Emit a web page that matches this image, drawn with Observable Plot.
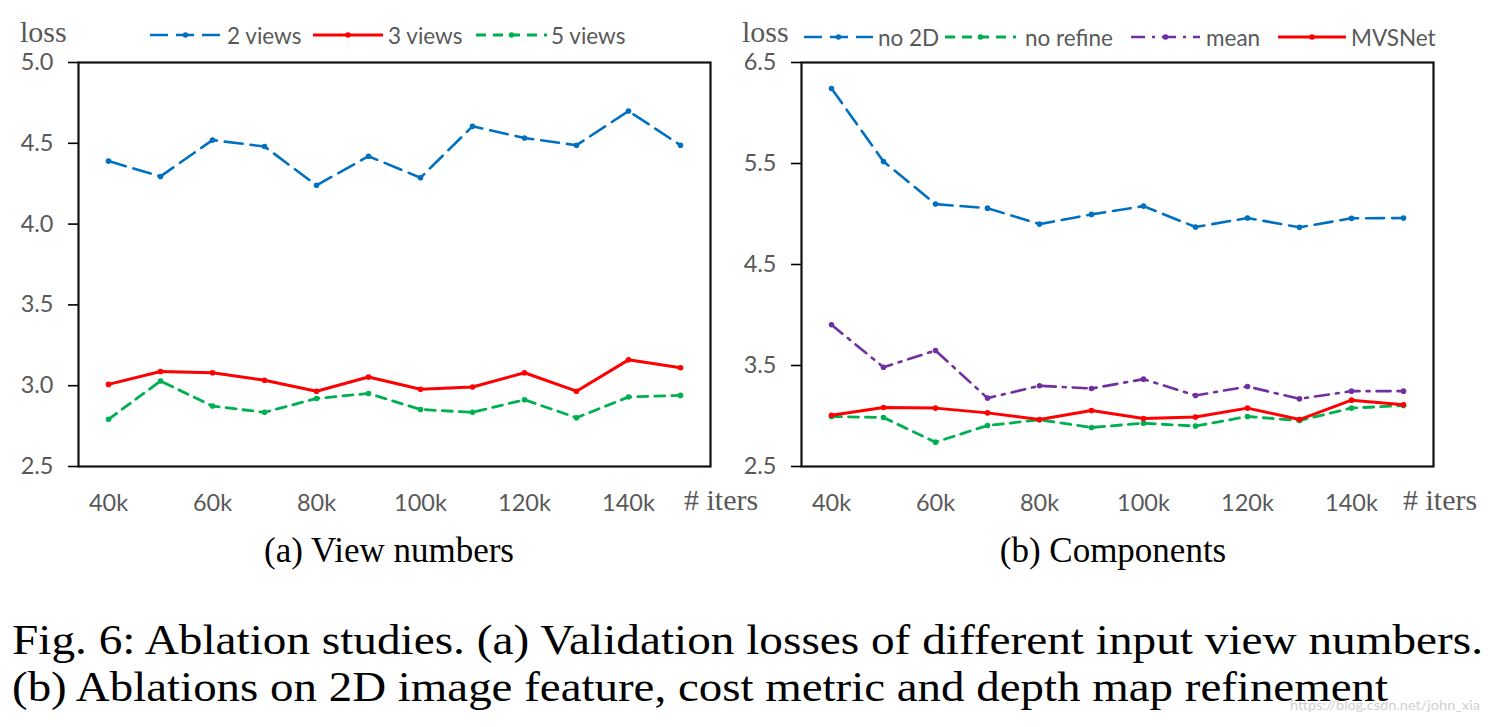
<!DOCTYPE html>
<html><head><meta charset="utf-8">
<script src="https://cdn.jsdelivr.net/npm/d3@7"></script>
<script src="https://cdn.jsdelivr.net/npm/@observablehq/plot@0.6"></script>
<style>
body{margin:0;background:#fff;}
#fig{position:relative;width:1499px;height:727px;overflow:hidden;background:#fff;}
#fig > svg{position:absolute;}
</style></head><body><div id="fig"></div>
<script>
// ---- data ----
const iters = [40, 50, 60, 70, 80, 90, 100, 110, 120, 130, 140, 150]; // thousands
const xTickValues = [40, 60, 80, 100, 120, 140];

// (a) View numbers
const views2 = [4.39, 4.295, 4.52, 4.48, 4.24, 4.42, 4.287, 4.605, 4.533, 4.488, 4.70, 4.488];
const views3 = [3.008, 3.088, 3.08, 3.034, 2.966, 3.054, 2.978, 2.992, 3.08, 2.966, 3.16, 3.111];
const views5 = [2.792, 3.029, 2.874, 2.835, 2.921, 2.952, 2.853, 2.835, 2.913, 2.802, 2.93, 2.94];
const yTicksA = [2.5, 3.0, 3.5, 4.0, 4.5, 5.0];

// (b) Components
const no2D = [6.243, 5.52, 5.098, 5.058, 4.90, 4.996, 5.078, 4.871, 4.96, 4.868, 4.957, 4.96];
const noRefine = [2.995, 2.985, 2.741, 2.906, 2.962, 2.886, 2.929, 2.90, 2.995, 2.955, 3.078, 3.104];
const meanCost = [3.903, 3.483, 3.649, 3.177, 3.299, 3.272, 3.365, 3.203, 3.292, 3.170, 3.246, 3.246];
const mvsnet = [3.008, 3.084, 3.078, 3.031, 2.965, 3.054, 2.975, 2.99, 3.078, 2.965, 3.157, 3.111];
const yTicksB = [2.5, 3.5, 4.5, 5.5, 6.5];

const BLUE = "#0070C0", RED = "#FF0000", GREEN = "#00B050", PURPLE = "#7030A0";
const styles = {
  "2 views":   {stroke: BLUE,   dash: "18,8",       w: 2.6},
  "3 views":   {stroke: RED,    dash: null,         w: 3},
  "5 views":   {stroke: GREEN,  dash: "10,7",       w: 2.8},
  "no 2D":     {stroke: BLUE,   dash: "18,8",       w: 2.6},
  "no refine": {stroke: GREEN,  dash: "10,7",       w: 2.8},
  "mean":      {stroke: PURPLE, dash: "14,7,3,7",   w: 2.6},
  "MVSNet":    {stroke: RED,    dash: null,         w: 3}
};

function table(seriesList) {
  const rows = [];
  for (const [name, vals] of seriesList)
    vals.forEach((v, i) => rows.push({series: name, iter: iters[i], loss: v}));
  return rows;
}

const TICK_FONT = 23.5;
const LEGEND_FONT = 22.5;

function panel(seriesList, yDomain, yTicks) {
  const data = table(seriesList);
  const marks = [];
  for (const [name] of seriesList) {
    const s = styles[name];
    const d = data.filter(r => r.series === name);
    marks.push(Plot.line(d, {x: "iter", y: "loss", stroke: s.stroke, strokeWidth: s.w,
      strokeDasharray: s.dash || undefined, strokeLinejoin: "round"}));
    marks.push(Plot.dot(d, {x: "iter", y: "loss", r: 2.8, fill: s.stroke, stroke: "none"}));
  }
  return Plot.plot({
    width: 740, height: 530,
    marginLeft: 78, marginRight: 30, marginTop: 62, marginBottom: 64,
    style: {fontFamily: "Lato, 'Open Sans', sans-serif", fontSize: TICK_FONT + "px", background: "transparent", overflow: "visible"},
    x: {type: "point", domain: iters, padding: 0.5},
    y: {domain: yDomain},
    marks: [
      ...marks,
      Plot.axisX({ticks: xTickValues, tickFormat: d => d + "k", tickSize: 0, tickPadding: 28,
        fontSize: TICK_FONT, fill: "#595959", label: null}),
      Plot.axisY({ticks: yTicks, tickFormat: d3.format(".1f"), tickSize: 10, tickPadding: 15,
        fontSize: TICK_FONT, fill: "#595959", stroke: "#000", strokeWidth: 1.6, label: null}),
      Plot.frame({stroke: "#111", strokeWidth: 2.2})
    ]
  });
}

const fig = document.getElementById("fig");
const pA = panel([["2 views", views2], ["3 views", views3], ["5 views", views5]], [2.5, 5.0], yTicksA);
pA.style.left = "0px"; pA.style.top = "0px";
fig.appendChild(pA);
const pB = panel([["no 2D", no2D], ["no refine", noRefine], ["mean", meanCost], ["MVSNet", mvsnet]], [2.5, 6.5], yTicksB);
pB.style.left = "723px"; pB.style.top = "0px";
fig.appendChild(pB);

// ---- overlay: legends, axis titles, sub-captions, caption ----
const NS = "http://www.w3.org/2000/svg";
const ov = document.createElementNS(NS, "svg");
ov.setAttribute("width", 1499); ov.setAttribute("height", 727);
ov.style.left = "0px"; ov.style.top = "0px";
fig.appendChild(ov);
function el(tag, attrs, text) {
  const e = document.createElementNS(NS, tag);
  for (const k in attrs) e.setAttribute(k, attrs[k]);
  if (text != null) e.textContent = text;
  ov.appendChild(e);
  return e;
}
const SERIF = "'Liberation Serif', 'Times New Roman', serif";
const SANS = "Lato, 'Open Sans', sans-serif";

function legend(items, y) {
  for (const it of items) {
    const s = styles[it.name];
    const a = {x1: it.sx, x2: it.sx + it.sw, y1: y, y2: y, stroke: s.stroke, "stroke-width": s.w};
    if (s.dash) a["stroke-dasharray"] = s.dash;
    el("line", a);
    el("circle", {cx: it.sx + it.sw / 2, cy: y, r: 2.8, fill: s.stroke});
    el("text", {x: it.tx, y: y, "dominant-baseline": "central", "font-family": SANS, "font-size": LEGEND_FONT, fill: "#595959"}, it.name);
  }
}
legend([
  {name: "2 views", sx: 150, sw: 71, tx: 227},
  {name: "3 views", sx: 313, sw: 70, tx: 388},
  {name: "5 views", sx: 476, sw: 71, tx: 551}
], 35);
legend([
  {name: "no 2D", sx: 804, sw: 69, tx: 878},
  {name: "no refine", sx: 945, sw: 71, tx: 1025},
  {name: "mean", sx: 1131, sw: 69, tx: 1206},
  {name: "MVSNet", sx: 1278, sw: 68, tx: 1351}
], 37);

el("text", {x: 20, y: 42, "font-family": SERIF, "font-size": 30, fill: "#595959"}, "loss");
el("text", {x: 742, y: 42, "font-family": SERIF, "font-size": 30, fill: "#595959"}, "loss");
el("text", {x: 684, y: 510, "font-family": SERIF, "font-size": 30, fill: "#595959"}, "# iters");
el("text", {x: 1403, y: 510, "font-family": SERIF, "font-size": 30, fill: "#595959"}, "# iters");

el("text", {x: 389, y: 562, "text-anchor": "middle", "font-family": SERIF, "font-size": 35, fill: "#000"}, "(a) View numbers");
el("text", {x: 1113, y: 562, "text-anchor": "middle", "font-family": SERIF, "font-size": 35, fill: "#000"}, "(b) Components");

el("text", {x: 12, y: 654, "font-family": SERIF, "font-size": 43, fill: "#000", textLength: 1471, lengthAdjust: "spacingAndGlyphs"},
  "Fig. 6: Ablation studies. (a) Validation losses of different input view numbers.");
el("text", {x: 12, y: 701, "font-family": SERIF, "font-size": 43, fill: "#000", textLength: 1376, lengthAdjust: "spacingAndGlyphs"},
  "(b) Ablations on 2D image feature, cost metric and depth map refinement");
el("text", {x: 1290, y: 710, "font-family": SANS, "font-size": 14, fill: "#d0d0d0", textLength: 190, lengthAdjust: "spacingAndGlyphs"},
  "https://blog.csdn.net/john_xia");
</script>
</body></html>
